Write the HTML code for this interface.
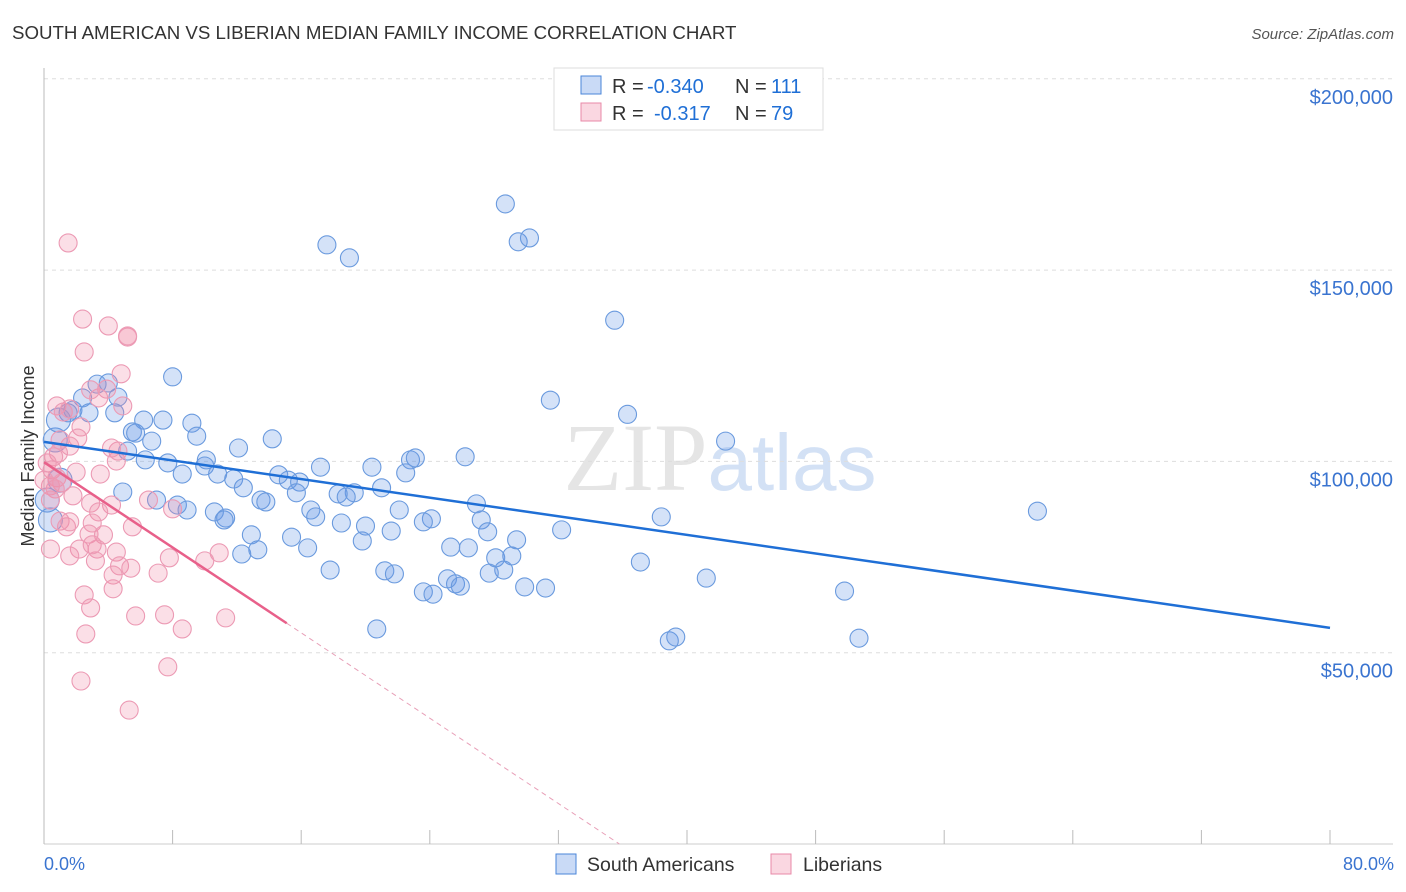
<!DOCTYPE html>
<html><head><meta charset="utf-8"><style>
body{margin:0;background:#fff;font-family:"Liberation Sans",sans-serif;}
svg{display:block}
</style></head><body>
<svg id="chart" width="1406" height="892" viewBox="0 0 1406 892" xmlns="http://www.w3.org/2000/svg">
<text x="12" y="39" font-size="18.7" fill="#333">SOUTH AMERICAN VS LIBERIAN MEDIAN FAMILY INCOME CORRELATION CHART</text>
<text x="1394" y="39" font-size="15" fill="#555" font-style="italic" text-anchor="end">Source: ZipAtlas.com</text>
<text x="720" y="490" font-size="96" text-anchor="middle" fill="#ccc" opacity="0.5" font-family="Liberation Serif,serif">ZIP<tspan fill="#a8c4ec" font-family="Liberation Sans,sans-serif" font-size="80">atlas</tspan></text>
<g id="grid"></g>
<g id="axes"></g>
<g id="pts"></g>
<g id="trend"></g>
<text transform="translate(34,456) rotate(-90)" font-size="18" fill="#333" text-anchor="middle">Median Family Income</text>
<text x="44" y="870" font-size="18" fill="#3a74d0">0.0%</text>
<text x="1394" y="870" font-size="18" fill="#3a74d0" text-anchor="end">80.0%</text>
<g>
<rect x="554" y="68" width="269" height="62" fill="#fff" stroke="#ddd"/>
<rect x="581" y="76" width="20" height="18" fill="rgba(100,150,230,0.35)" stroke="#4a86d8"/>
<rect x="581" y="103" width="20" height="18" fill="rgba(240,140,170,0.35)" stroke="#e88aa8"/>
<text x="612" y="93" font-size="20" fill="#333">R =</text>
<text x="647" y="93" font-size="20" fill="#1f6fd6">-0.340</text>
<text x="735" y="93" font-size="20" fill="#333">N =</text>
<text x="771" y="93" font-size="20" fill="#1f6fd6">111</text>
<text x="612" y="120" font-size="20" fill="#333">R =</text>
<text x="654" y="120" font-size="20" fill="#1f6fd6">-0.317</text>
<text x="735" y="120" font-size="20" fill="#333">N =</text>
<text x="771" y="120" font-size="20" fill="#1f6fd6">79</text>
</g>
<g>
<rect x="556" y="854" width="20" height="20" fill="rgba(100,150,230,0.35)" stroke="#4a86d8"/>
<text x="587" y="871" font-size="19.5" fill="#333">South Americans</text>
<rect x="771" y="854" width="20" height="20" fill="rgba(240,140,170,0.35)" stroke="#e88aa8"/>
<text x="803" y="871" font-size="19.5" fill="#333">Liberians</text>
</g>
</svg>
<script>
const yTicks=[50,100,150,200];
const yTickLabels=["$50,000","$100,000","$150,000","$200,000"];
const xTicks=[0,8,16,24,32,40,48,56,64,72,80];
const blueX=[28.7,29.5,30.2,17.6,19.0,35.5,31.5,36.3,42.4,61.8,8.0,3.3,4.0,4.6,2.4,1.5,1.8,2.8,4.4,6.2,7.4,9.2,5.5,5.7,9.5,6.7,12.1,14.2,5.2,6.3,7.7,10.1,10.0,8.6,10.8,11.8,12.4,14.6,15.2,15.9,17.2,20.4,22.8,23.1,26.2,22.5,21.0,19.3,18.3,18.8,15.7,13.5,13.8,10.6,11.3,11.2,7.0,8.3,8.9,4.9,16.6,16.9,18.5,20.0,22.1,24.1,23.6,26.9,27.2,27.6,29.4,32.2,38.4,21.6,19.8,12.9,15.4,16.4,12.3,13.3,25.3,26.4,28.1,29.1,17.8,21.2,21.8,28.6,27.7,25.1,25.6,25.9,23.6,24.2,29.9,31.2,37.1,41.2,49.8,20.7,38.9,39.3,50.7,0.4,0.7,0.9,1.0,0.2];
const blueY=[167.3,157.4,158.4,156.6,153.2,136.9,116.0,112.3,105.3,87.0,122.1,120.2,120.5,116.8,116.6,112.7,113.4,112.7,112.7,110.8,110.8,110.0,107.7,107.4,106.6,105.3,103.5,105.9,102.7,100.4,99.6,100.4,98.8,96.7,96.7,95.4,93.1,96.5,95.1,94.6,98.5,98.5,100.4,100.9,101.2,97.0,93.1,91.8,91.5,90.7,91.8,89.9,89.4,86.8,85.2,84.7,89.9,88.6,87.3,92.0,87.3,85.5,83.9,83.1,87.3,85.0,84.2,88.9,84.7,81.6,79.5,82.1,85.5,81.8,79.2,80.8,80.2,77.4,75.8,76.9,77.6,77.4,74.8,75.3,71.6,71.4,70.6,71.6,70.8,69.3,68.0,67.4,65.9,65.3,67.2,66.9,73.7,69.5,66.1,56.2,53.1,54.1,53.8,84.7,105.6,110.8,95.1,89.9];
const pinkX=[1.5,2.4,4.0,5.2,5.2,2.5,4.8,3.9,3.4,2.9,0.8,1.2,1.6,2.3,2.1,1.6,0.9,0.6,0.2,0.5,0.8,1.1,0.4,0.7,0.0,2.0,3.5,4.5,4.6,4.2,4.9,1.8,2.9,4.2,3.4,8.0,1.0,1.4,1.6,3.0,2.8,5.5,3.7,6.5,0.4,2.2,3.3,4.5,4.7,4.3,5.4,7.1,7.8,10.9,10.0,1.6,3.2,4.3,2.5,2.9,5.7,7.5,8.6,11.3,2.6,7.7,2.3,5.3,0.4,1.0,3.0];
const pinkY=[157.1,137.2,135.4,132.5,132.8,128.6,122.9,118.9,116.6,118.7,114.5,112.9,113.7,109.0,106.1,104.0,102.2,101.2,99.6,97.8,95.7,94.4,93.6,92.8,95.1,97.2,96.7,100.1,102.7,103.5,114.5,91.0,89.1,88.6,86.8,87.6,84.4,82.9,84.2,83.9,81.0,82.9,80.8,89.9,77.1,77.1,77.1,76.3,72.7,70.3,72.1,70.8,74.8,76.1,74.0,75.3,74.0,66.7,65.1,61.7,59.6,59.9,56.2,59.1,54.9,46.3,42.6,35.0,89.9,105.6,78.2];
const blueTrend=[105.1,56.5];
const pinkTrend=[99.8,57.7];
const pinkTrendEndX=15.1;

const X=p=>44+p*16.075;
const Y=v=>844-v*3.826;
const NS="http://www.w3.org/2000/svg";
function mk(tag,attrs,parent){const e=document.createElementNS(NS,tag);for(const k in attrs)e.setAttribute(k,attrs[k]);document.getElementById(parent).appendChild(e);return e;}
yTicks.forEach((t,i)=>{
  const l=mk('line',{x1:44,x2:1393,y1:Y(t),y2:Y(t),stroke:'#ddd','stroke-dasharray':'4,4'},'grid');
  
  
  const tx=mk('text',{x:1393,y:Y(t)+25,'font-size':20,fill:'#3a74d0','text-anchor':'end'},'grid');
  tx.textContent=yTickLabels[i];
  
  
});
const ax=mk('line',{x1:44,x2:44,y1:68,y2:844,stroke:'#bbb'},'axes');


const bx=mk('line',{x1:44,x2:1393,y1:844,y2:844,stroke:'#ccc'},'axes');


xTicks.forEach(t=>{
  const l=mk('line',{x1:X(t),x2:X(t),y1:830,y2:844,stroke:'#bbb'},'axes');
  
  
});
blueX.forEach((x,i)=>{
  const c=mk('circle',{cx:X(x),cy:Y(blueY[i]),r:(x<1.1?12:9),fill:'rgba(100,150,230,0.28)',stroke:'#6a9ade','stroke-width':1.1},'pts');
  
  
});
pinkX.forEach((x,i)=>{
  const c=mk('circle',{cx:X(x),cy:Y(pinkY[i]),r:9,fill:'rgba(240,140,170,0.28)',stroke:'#ec9ab4','stroke-width':1.1},'pts');
  
  
});
const bl=mk('line',{x1:X(0),y1:Y(blueTrend[0]),x2:X(80),y2:Y(blueTrend[1]),stroke:'#1f6fd6','stroke-width':2.5},'trend');


const slope=(pinkTrend[1]-pinkTrend[0])/pinkTrendEndX;
const zeroX=-pinkTrend[0]/slope;
const pl=mk('line',{x1:X(0),y1:Y(pinkTrend[0]),x2:X(pinkTrendEndX),y2:Y(pinkTrend[1]),stroke:'#e8608a','stroke-width':2.5},'trend');


const pd=mk('line',{x1:X(pinkTrendEndX),y1:Y(pinkTrend[1]),x2:X(zeroX),y2:Y(0),stroke:'#e8a0b8','stroke-width':1,'stroke-dasharray':'5,4'},'trend');


</script>
</body></html>
